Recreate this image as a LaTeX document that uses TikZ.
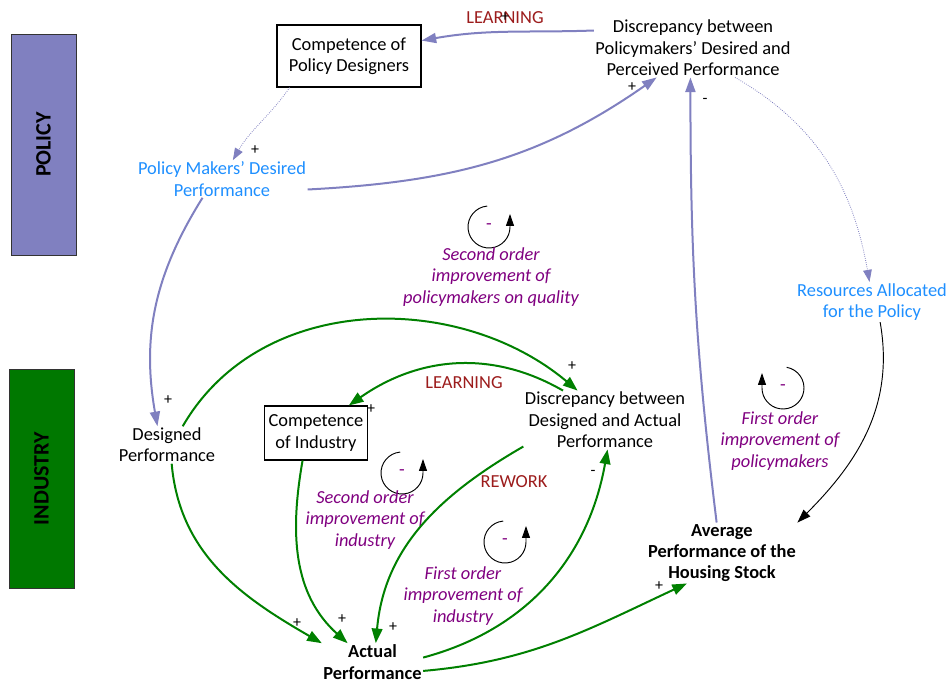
\documentclass[tikz,border=0pt]{standalone}
\usepackage{fontspec}
\setmainfont{Carlito}
\usetikzlibrary{arrows.meta}

\definecolor{polcol}{HTML}{8080C0}
\definecolor{indcol}{HTML}{007800}
\definecolor{linkgreen}{HTML}{008000}
\definecolor{parblue}{HTML}{1E8FFF}
\definecolor{tagred}{HTML}{9C1C1C}
\definecolor{loopcol}{HTML}{800080}

\begin{document}
\begin{tikzpicture}[
  x=0.75pt, y=0.75pt,
  every node/.style={align=center, inner sep=1pt, font=\fontsize{13.8}{16}\selectfont},
  box/.style={draw, line width=0.8pt},
  param/.style={text=parblue},
  stock/.style={font=\fontsize{13.8}{16}\selectfont\bfseries},
  sector/.style={draw=black!80, rotate=90, inner sep=0pt, font=\fontsize{16.5}{16.5}\selectfont\bfseries},
  loopname/.style={text=loopcol, font=\fontsize{13.8}{16}\selectfont\itshape},
  looptag/.style={text=tagred},
  sign/.style={inner sep=0pt, font=\fontsize{12}{12}\selectfont},
  pol/.style={draw=polcol, line width=1.5pt, -{Triangle[length=11pt,width=7.5pt]}},
  polthin/.style={draw=polcol, densely dotted, line width=0.6pt, -{Triangle[length=9pt,width=6.5pt]}},
  ind/.style={draw=linkgreen, line width=1.5pt, -{Triangle[length=11pt,width=8pt]}},
  plain/.style={draw=black, line width=0.7pt, -{Triangle[length=10pt,width=7pt]}},
  loop/.style={draw=black, line width=0.7pt, -{Triangle[length=9pt,width=6pt]}},
  ]
  \useasboundingbox (0,0) rectangle (951,682);

  % sectors
  \node[sector, fill=polcol, minimum width=165.75pt, minimum height=48.75pt] (policy) at (43.5,537.5) {POLICY};
  \node[sector, fill=indcol, minimum width=164.25pt, minimum height=48.75pt] (industry) at (41.5,203.5) {INDUSTRY};

  % variables
  \node[box, minimum width=108pt, minimum height=46.5pt] (cpd) at (349,626) {Competence of\\Policy Designers};
  \node (disc1) at (693,634) {Discrepancy between\\Policymakers' Desired and\\Perceived Performance};
  \node[param] (pmdp) at (222,503) {Policy Makers' Desired\\Performance};
  \node[param] (res) at (872,380) {Resources Allocated\\for the Policy};
  \node (dp) at (167,237) {Designed\\Performance};
  \node (disc2) at (605,262) {Discrepancy between\\Designed and Actual\\Performance};
  \node[box, minimum width=77.25pt, minimum height=40.5pt] (ci) at (316,249) {Competence\\of Industry};
  \node[stock] (ap) at (372.5,20) {Actual\\Performance};
  \node[stock] (avg) at (722,129) {Average\\Performance of the\\Housing Stock};

  % loops
  \coordinate (l1) at (489,455);
  \coordinate (l2) at (402,209);
  \coordinate (l3) at (505,140);
  \coordinate (l4) at (783,294);
  \draw[loop] ([shift={(95:21)}]l1) arc[start angle=95, end angle=360, radius=21] -- ++(0,13);
  \draw[loop] ([shift={(95:21)}]l2) arc[start angle=95, end angle=360, radius=21] -- ++(0,14);
  \draw[loop] ([shift={(95:21)}]l3) arc[start angle=95, end angle=360, radius=21] -- ++(0,16);
  \draw[loop] ([shift={(80:21)}]l4) arc[start angle=80, end angle=-180, radius=21] -- ++(0,15);
  \node[text=loopcol] at (l1) {-};
  \node[text=loopcol] at (l2) {-};
  \node[text=loopcol] at (l3) {-};
  \node[text=loopcol] at (l4) {-};
  \node[loopname] (name1) at (491,405) {Second order\\improvement of\\policymakers on quality};
  \node[loopname] (name2) at (365,162) {Second order\\improvement of\\industry};
  \node[loopname] (name3) at (463,86) {First order\\improvement of\\industry};
  \node[loopname] (name4) at (780,241) {First order\\improvement of\\policymakers};
  \node[looptag] (learn1) at (505,664) {LEARNING};
  \node[looptag] (learn2) at (464,299) {LEARNING};
  \node[looptag] (rework) at (514,200) {REWORK};

  % policy links
  \draw[pol] (disc1.170) to[out=182, in=10] (cpd.12);
  \draw[polthin] (cpd.208) to[out=235, in=60] (pmdp.60);
  \draw[pol] (pmdp.-7) to[out=3, in=215] (disc1.219);
  \draw[pol] (pmdp.224) to[out=238, in=100] (dp.117);
  \draw[polthin] (disc1.-35) to[out=-30, in=100] (res.97);
  \draw[plain] (res.-68) to[out=-80, in=45] (avg.north east);
  \draw[pol] (avg.100) to[out=97, in=-90] (disc1.265);

  % industry links
  \draw[ind] (dp.50) to[out=60, in=140] (disc2.133);
  \draw[ind] (disc2.145) to[out=150, in=35] (ci.40);
  \draw[ind] (dp.-76) to[out=-85, in=150] (ap.north west);
  \draw[ind] (ci.-116) to[out=-100, in=138] (ap.143);
  \draw[ind] (disc2.198) to[out=210, in=85] (ap.80);
  \draw[ind] (ap.5) to[out=15, in=-100] (disc2.-85);
  \draw[ind] (ap.-10) to[out=5, in=205] (avg.221);

  % polarities
  \node[sign] at (505,665) {+};
  \node[sign] at (632,595) {+};
  \node[sign] at (255,532) {+};
  \node[sign] at (705,581) {-};
  \node[sign] at (168,282) {+};
  \node[sign] at (572,316) {+};
  \node[sign] at (371,273) {+};
  \node[sign] at (593,209) {-};
  \node[sign] at (297,59) {+};
  \node[sign] at (342,63) {+};
  \node[sign] at (393,55) {+};
  \node[sign] at (659,96) {+};
\end{tikzpicture}
\end{document}
